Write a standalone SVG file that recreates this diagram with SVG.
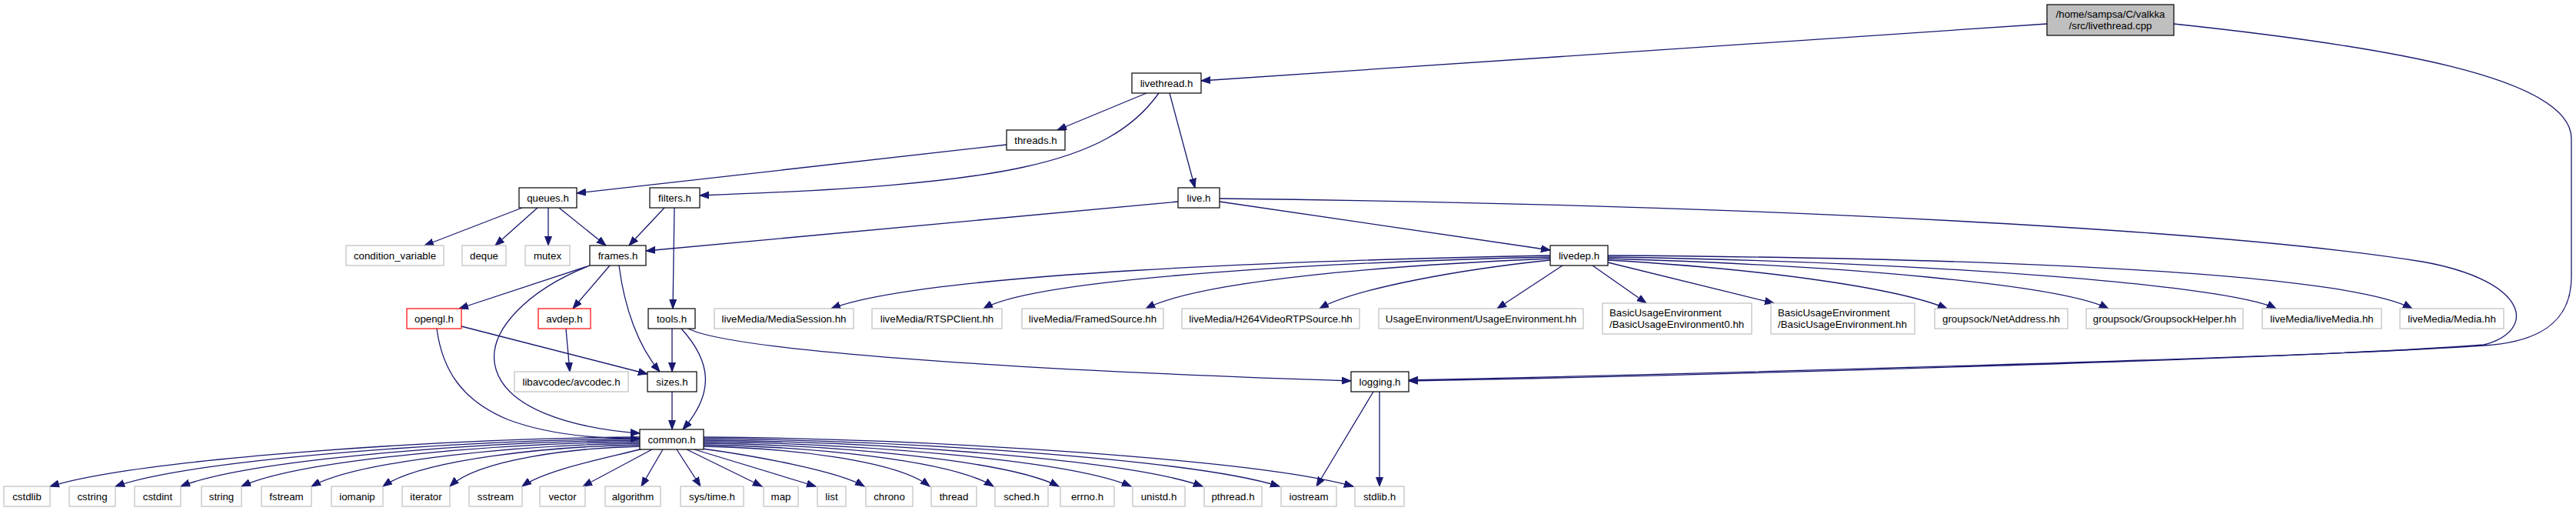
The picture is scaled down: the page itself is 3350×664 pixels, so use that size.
<svg xmlns="http://www.w3.org/2000/svg" width="3350" height="664" viewBox="0 0 3350 664">
<style>
text{font-family:"Liberation Sans",Arial,sans-serif;font-size:13.3px;fill:#000;text-anchor:middle}
text.l{text-anchor:start}
rect{fill:#fff;stroke-width:1.2}
.n rect{stroke:#000}
.g rect{stroke:#bfbfbf}
.r rect{stroke:#ff0000}
.root rect{fill:#bfbfbf;stroke:#000}
#edges path{fill:none;stroke:#191970;stroke-width:1.3;marker-end:url(#ah)}
</style>
<defs>
<marker id="ah" markerUnits="userSpaceOnUse" markerWidth="14" markerHeight="12" viewBox="0 0 14 12" refX="12" refY="5" orient="auto">
<path d="M0,0.5 L12,5 L0,9.5 z" fill="#191970" stroke="#191970" stroke-width="1"/>
</marker>
</defs>
<rect x="0" y="0" width="3350" height="664" style="fill:#fff;stroke:none"/>
<g id="edges">
<path d="M2662,31 L1562,105"/>
<path d="M2827,31 C3100,60 3344,100 3344,180 L3344,360 C3344,420 3300,445 3230,449 C3000,465 2200,486 1832,494"/>
<path d="M1586,258 C2300,266 2900,300 3150,340 C3290,365 3300,430 3230,448 C3000,466 2200,488 1832,495"/>
<path d="M1491,121 L1375,169"/>
<path d="M1507,121 C1440,215 1300,240 910,254"/>
<path d="M1521,121 L1554,244"/>
<path d="M1309,188 L750,251"/>
<path d="M679,270 L552,319"/>
<path d="M699,270 L644,319"/>
<path d="M713,270 L713,319"/>
<path d="M727,270 L788,319"/>
<path d="M864,270 L818,319"/>
<path d="M877,270 L875,401"/>
<path d="M1532,262 L840,326"/>
<path d="M1586,262 L2016,325"/>
<path d="M767,345 L597,401"/>
<path d="M767,345 C690,375 630,430 645,480 C660,530 740,556 832,563"/>
<path d="M793,345 L745,401"/>
<path d="M805,345 C812,400 830,450 858,483"/>
<path d="M600,424 L842,486"/>
<path d="M568,427 C575,480 600,520 660,545 C720,568 790,570 832,570"/>
<path d="M736,427 L741,483"/>
<path d="M874,427 L874,483"/>
<path d="M886,427 C925,470 930,510 888,558"/>
<path d="M874,509 L874,558"/>
<path d="M895,427 C950,455 1300,480 1757,495"/>
<path d="M1786,509 L1712,632"/>
<path d="M1794,509 L1794,632"/>
<path d="M2016,332 C1700,338 1200,355 1081,401"/>
<path d="M2016,334 C1750,340 1350,360 1279,401"/>
<path d="M2016,336 C1800,345 1560,365 1490,401"/>
<path d="M2016,338 C1900,350 1760,375 1716,401"/>
<path d="M2032,345 L1947,401"/>
<path d="M2071,345 L2141,394"/>
<path d="M2091,341 L2307,394"/>
<path d="M2091,338 C2300,350 2470,375 2532,401"/>
<path d="M2091,336 C2400,345 2680,370 2742,401"/>
<path d="M2091,334 C2500,340 2900,370 2960,401"/>
<path d="M2091,332 C2600,335 3050,355 3137,401"/>
<path d="M832,568 C563,570 180,597 65,632"/>
<path d="M832,570 C593,572 252,597 150,632"/>
<path d="M832,572 C623,574 325,597 235,632"/>
<path d="M832,574 C651,576 392,597 314,632"/>
<path d="M832,576 C683,578 469,597 405,632"/>
<path d="M832,578 C715,580 548,597 498,632"/>
<path d="M832,580 C746,582 622,597 585,632"/>
<path d="M836,583 C790,595 710,610 679,632"/>
<path d="M848,584 L758,632"/>
<path d="M862,584 L834,632"/>
<path d="M880,584 L911,632"/>
<path d="M893,584 L991,632"/>
<path d="M903,584 L1061,632"/>
<path d="M913,583 C980,592 1090,612 1124,632"/>
<path d="M915,580 C1018,582 1165,597 1209,632"/>
<path d="M915,578 C1047,580 1235,597 1292,632"/>
<path d="M915,576 C1077,578 1308,597 1377,632"/>
<path d="M915,574 C1110,576 1388,597 1471,632"/>
<path d="M915,572 C1142,574 1467,597 1564,632"/>
<path d="M915,570 C1177,572 1552,597 1664,632"/>
<path d="M915,568 C1211,570 1633,597 1760,632"/>
</g>
<g id="livethread_cpp" class="root"><rect x="2662" y="6" width="165" height="40"/><text x="2744.5" y="23">/home/sampsa/C/valkka</text><text x="2744.5" y="38">/src/livethread.cpp</text></g>
<g id="livethread_h" class="n"><rect x="1472" y="95" width="90" height="26"/><text x="1517" y="112.7">livethread.h</text></g>
<g id="threads_h" class="n"><rect x="1309" y="169" width="76" height="26"/><text x="1347" y="186.7">threads.h</text></g>
<g id="queues_h" class="n"><rect x="675" y="244" width="75" height="26"/><text x="712.5" y="261.7">queues.h</text></g>
<g id="filters_h" class="n"><rect x="845" y="244" width="65" height="26"/><text x="877.5" y="261.7">filters.h</text></g>
<g id="live_h" class="n"><rect x="1532" y="244" width="54" height="26"/><text x="1559" y="261.7">live.h</text></g>
<g id="condition_variable" class="g"><rect x="450" y="319" width="127" height="26"/><text x="513.5" y="336.7">condition_variable</text></g>
<g id="deque" class="g"><rect x="601" y="319" width="57" height="26"/><text x="629.5" y="336.7">deque</text></g>
<g id="mutex" class="g"><rect x="683" y="319" width="58" height="26"/><text x="712" y="336.7">mutex</text></g>
<g id="frames_h" class="n"><rect x="767" y="319" width="73" height="26"/><text x="803.5" y="336.7">frames.h</text></g>
<g id="livedep_h" class="n"><rect x="2016" y="319" width="75" height="26"/><text x="2053.5" y="336.7">livedep.h</text></g>
<g id="opengl_h" class="r"><rect x="529" y="401" width="71" height="26"/><text x="564.5" y="418.7">opengl.h</text></g>
<g id="avdep_h" class="r"><rect x="700" y="401" width="68" height="26"/><text x="734" y="418.7">avdep.h</text></g>
<g id="tools_h" class="n"><rect x="843" y="401" width="61" height="26"/><text x="873.5" y="418.7">tools.h</text></g>
<g id="MediaSession" class="g"><rect x="929" y="401" width="181" height="26"/><text x="1019.5" y="418.7">liveMedia/MediaSession.hh</text></g>
<g id="RTSPClient" class="g"><rect x="1134" y="401" width="169" height="26"/><text x="1218.5" y="418.7">liveMedia/RTSPClient.hh</text></g>
<g id="FramedSource" class="g"><rect x="1329" y="401" width="184" height="26"/><text x="1421" y="418.7">liveMedia/FramedSource.hh</text></g>
<g id="H264VideoRTPSource" class="g"><rect x="1537" y="401" width="231" height="26"/><text x="1652.5" y="418.7">liveMedia/H264VideoRTPSource.hh</text></g>
<g id="UsageEnvironment" class="g"><rect x="1793" y="401" width="266" height="26"/><text x="1926" y="418.7">UsageEnvironment/UsageEnvironment.hh</text></g>
<g id="BasicUsageEnvironment0" class="g"><rect x="2084" y="394" width="194" height="40"/><text class="l" x="2093" y="411">BasicUsageEnvironment</text><text class="l" x="2093" y="426">/BasicUsageEnvironment0.hh</text></g>
<g id="BasicUsageEnvironment" class="g"><rect x="2303" y="394" width="187" height="40"/><text class="l" x="2312" y="411">BasicUsageEnvironment</text><text class="l" x="2312" y="426">/BasicUsageEnvironment.hh</text></g>
<g id="NetAddress" class="g"><rect x="2516" y="401" width="173" height="26"/><text x="2602.5" y="418.7">groupsock/NetAddress.hh</text></g>
<g id="GroupsockHelper" class="g"><rect x="2713" y="401" width="204" height="26"/><text x="2815" y="418.7">groupsock/GroupsockHelper.hh</text></g>
<g id="liveMedia_hh" class="g"><rect x="2942" y="401" width="155" height="26"/><text x="3019.5" y="418.7">liveMedia/liveMedia.hh</text></g>
<g id="Media_hh" class="g"><rect x="3121" y="401" width="135" height="26"/><text x="3188.5" y="418.7">liveMedia/Media.hh</text></g>
<g id="avcodec_h" class="g"><rect x="669" y="483" width="148" height="26"/><text x="743" y="500.7">libavcodec/avcodec.h</text></g>
<g id="sizes_h" class="n"><rect x="842" y="483" width="64" height="26"/><text x="874" y="500.7">sizes.h</text></g>
<g id="logging_h" class="n"><rect x="1757" y="483" width="75" height="26"/><text x="1794.5" y="500.7">logging.h</text></g>
<g id="common_h" class="n"><rect x="832" y="558" width="83" height="26"/><text x="873.5" y="575.7">common.h</text></g>
<g id="cstdlib" class="g"><rect x="5" y="632" width="60" height="26"/><text x="35" y="649.7">cstdlib</text></g>
<g id="cstring" class="g"><rect x="90" y="632" width="60" height="26"/><text x="120" y="649.7">cstring</text></g>
<g id="cstdint" class="g"><rect x="175" y="632" width="60" height="26"/><text x="205" y="649.7">cstdint</text></g>
<g id="string" class="g"><rect x="262" y="632" width="52" height="26"/><text x="288" y="649.7">string</text></g>
<g id="fstream" class="g"><rect x="340" y="632" width="65" height="26"/><text x="372.5" y="649.7">fstream</text></g>
<g id="iomanip" class="g"><rect x="431" y="632" width="67" height="26"/><text x="464.5" y="649.7">iomanip</text></g>
<g id="iterator" class="g"><rect x="523" y="632" width="62" height="26"/><text x="554" y="649.7">iterator</text></g>
<g id="sstream" class="g"><rect x="610" y="632" width="69" height="26"/><text x="644.5" y="649.7">sstream</text></g>
<g id="vector" class="g"><rect x="702" y="632" width="59" height="26"/><text x="731.5" y="649.7">vector</text></g>
<g id="algorithm" class="g"><rect x="787" y="632" width="72" height="26"/><text x="823" y="649.7">algorithm</text></g>
<g id="sys_time_h" class="g"><rect x="885" y="632" width="82" height="26"/><text x="926" y="649.7">sys/time.h</text></g>
<g id="map" class="g"><rect x="993" y="632" width="45" height="26"/><text x="1015.5" y="649.7">map</text></g>
<g id="list" class="g"><rect x="1063" y="632" width="37" height="26"/><text x="1081.5" y="649.7">list</text></g>
<g id="chrono" class="g"><rect x="1126" y="632" width="61" height="26"/><text x="1156.5" y="649.7">chrono</text></g>
<g id="thread" class="g"><rect x="1211" y="632" width="59" height="26"/><text x="1240.5" y="649.7">thread</text></g>
<g id="sched_h" class="g"><rect x="1294" y="632" width="69" height="26"/><text x="1328.5" y="649.7">sched.h</text></g>
<g id="errno_h" class="g"><rect x="1379" y="632" width="70" height="26"/><text x="1414" y="649.7">errno.h</text></g>
<g id="unistd_h" class="g"><rect x="1473" y="632" width="68" height="26"/><text x="1507" y="649.7">unistd.h</text></g>
<g id="pthread_h" class="g"><rect x="1566" y="632" width="75" height="26"/><text x="1603.5" y="649.7">pthread.h</text></g>
<g id="iostream" class="g"><rect x="1666" y="632" width="72" height="26"/><text x="1702" y="649.7">iostream</text></g>
<g id="stdlib_h" class="g"><rect x="1762" y="632" width="64" height="26"/><text x="1794" y="649.7">stdlib.h</text></g>
</svg>
